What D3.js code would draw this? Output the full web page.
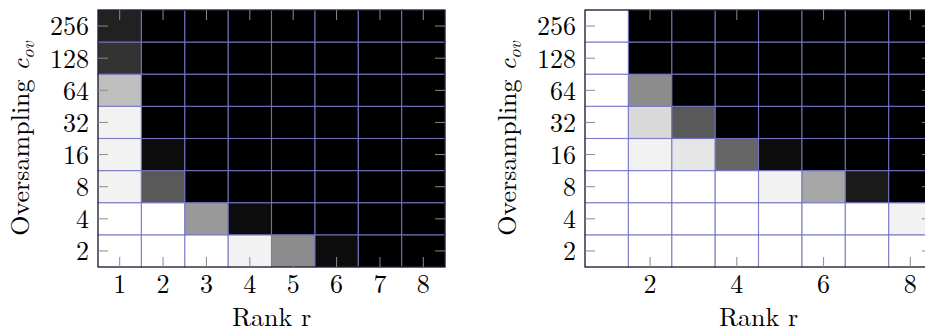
<!DOCTYPE html>
<html>
<head>
<meta charset="utf-8">
<script src="https://cdn.jsdelivr.net/npm/d3@7"></script>
<style>
	body { margin: 0; background: #fff; }
	svg { display: block; overflow: hidden; }
	.tick text { font-family: "Latin Modern Roman", "Liberation Serif", serif; font-size: 26px; fill: #000; }
	.lab { font-family: "Latin Modern Roman", "Liberation Serif", serif; font-size: 26px; fill: #000; }
</style>
</head>
<body>
<div id="chart"></div>
<script>
// rank r on x, oversampling c_ov on y (rows listed from c_ov = 2 up to 256)
const ranks = [1, 2, 3, 4, 5, 6, 7, 8];
const oversampling = [2, 4, 8, 16, 32, 64, 128, 256];

// fraction of success, 1 = white, 0 = black
const leftValues = [
	[1, 1, 1, 0.95, 0.55, 0.05, 0, 0],
	[1, 1, 0.6, 0.05, 0, 0, 0, 0],
	[0.95, 0.35, 0, 0, 0, 0, 0, 0],
	[0.95, 0.05, 0, 0, 0, 0, 0, 0],
	[0.95, 0, 0, 0, 0, 0, 0, 0],
	[0.75, 0, 0, 0, 0, 0, 0, 0],
	[0.2, 0, 0, 0, 0, 0, 0, 0],
	[0.13, 0, 0, 0, 0, 0, 0, 0],
];

const rightValues = [
	[1, 1, 1, 1, 1, 1, 1, 1],
	[1, 1, 1, 1, 1, 1, 1, 0.95],
	[1, 1, 1, 1, 0.95, 0.65, 0.1, 0],
	[1, 0.95, 0.9, 0.4, 0.05, 0, 0, 0],
	[1, 0.85, 0.35, 0, 0, 0, 0, 0],
	[1, 0.55, 0, 0, 0, 0, 0, 0],
	[1, 0, 0, 0, 0, 0, 0, 0],
	[1, 0, 0, 0, 0, 0, 0, 0],
];

const leftXTicks = ranks;
const rightXTicks = [2, 4, 6, 8];

const width = 925;
const height = 332;
const plotW = 347;
const plotH = 257;
const plotTop = 10;

const svg = d3
	.select("#chart")
	.append("svg")
	.attr("width", width)
	.attr("height", height);

svg.append("rect").attr("width", width).attr("height", height).attr("fill", "#fff");

const color = d3.scaleLinear().domain([0, 1]).range(["#000", "#fff"]);

function heatmap(left, values, xTicks) {
	const x = d3.scaleBand().domain(ranks).range([left, left + plotW]);
	const y = d3.scaleBand().domain(oversampling.slice().reverse()).range([plotTop, plotTop + plotH]);

	const cells = [];
	values.forEach((row, i) => {
		row.forEach((v, j) => cells.push({ r: ranks[j], c: oversampling[i], v: v }));
	});

	const g = svg.append("g");

	g.selectAll("rect.cell")
		.data(cells)
		.join("rect")
		.attr("class", "cell")
		.attr("x", (d) => x(d.r))
		.attr("y", (d) => y(d.c))
		.attr("width", x.bandwidth())
		.attr("height", y.bandwidth())
		.attr("fill", (d) => color(d.v));

	// cell borders
	g.selectAll("rect.border")
		.data(cells)
		.join("rect")
		.attr("class", "border")
		.attr("x", (d) => x(d.r))
		.attr("y", (d) => y(d.c))
		.attr("width", x.bandwidth())
		.attr("height", y.bandwidth())
		.attr("fill", "none")
		.attr("stroke", "#7272c4")
		.attr("stroke-opacity", 0.7)
		.attr("stroke-width", 1.1);

	// frame
	g.append("rect")
		.attr("x", left)
		.attr("y", plotTop)
		.attr("width", plotW)
		.attr("height", plotH)
		.attr("fill", "none")
		.attr("stroke", "#000")
		.attr("stroke-width", 1);

	const tickLen = 10;
	const styleAxis = (a) => {
		a.select(".domain").remove();
		a.selectAll(".tick line").attr("stroke", "#8a8a8a").attr("stroke-width", 1);
	};
	const noText = (a) => a.selectAll(".tick text").remove();

	g.append("g")
		.attr("transform", `translate(0,${plotTop + plotH})`)
		.call(d3.axisBottom(x).tickValues(xTicks).tickSizeInner(-tickLen).tickSizeOuter(0).tickPadding(8))
		.call(styleAxis)
		.call((a) => a.selectAll(".tick text").attr("font-family", null).attr("font-size", null));

	g.append("g")
		.attr("transform", `translate(0,${plotTop})`)
		.call(d3.axisTop(x).tickValues(xTicks).tickSizeInner(-tickLen).tickSizeOuter(0))
		.call(styleAxis)
		.call(noText);

	g.append("g")
		.attr("transform", `translate(${left},0)`)
		.call(d3.axisLeft(y).tickSizeInner(-tickLen).tickSizeOuter(0).tickPadding(9))
		.call(styleAxis)
		.call((a) => a.selectAll(".tick text").attr("font-family", null).attr("font-size", null).attr("dy", "0.36em"));

	g.append("g")
		.attr("transform", `translate(${left + plotW},0)`)
		.call(d3.axisRight(y).tickSizeInner(-tickLen).tickSizeOuter(0))
		.call(styleAxis)
		.call(noText);

	// axis labels
	g.append("text")
		.attr("class", "lab")
		.attr("x", left + plotW / 2)
		.attr("y", 326)
		.attr("text-anchor", "middle")
		.text("Rank r");

	const yl = g.append("text")
		.attr("class", "lab")
		.attr("text-anchor", "middle")
		.attr("transform", `translate(${left - 69},${plotTop + plotH / 2}) rotate(-90)`);
	yl.append("tspan").text("Oversampling ");
	yl.append("tspan").attr("font-style", "italic").text("c");
	yl.append("tspan")
		.attr("font-style", "italic")
		.attr("font-size", "18px")
		.attr("dy", "5")
		.text("ov");
}

heatmap(98, leftValues, leftXTicks);
heatmap(585, rightValues, rightXTicks);
</script>
</body>
</html>
